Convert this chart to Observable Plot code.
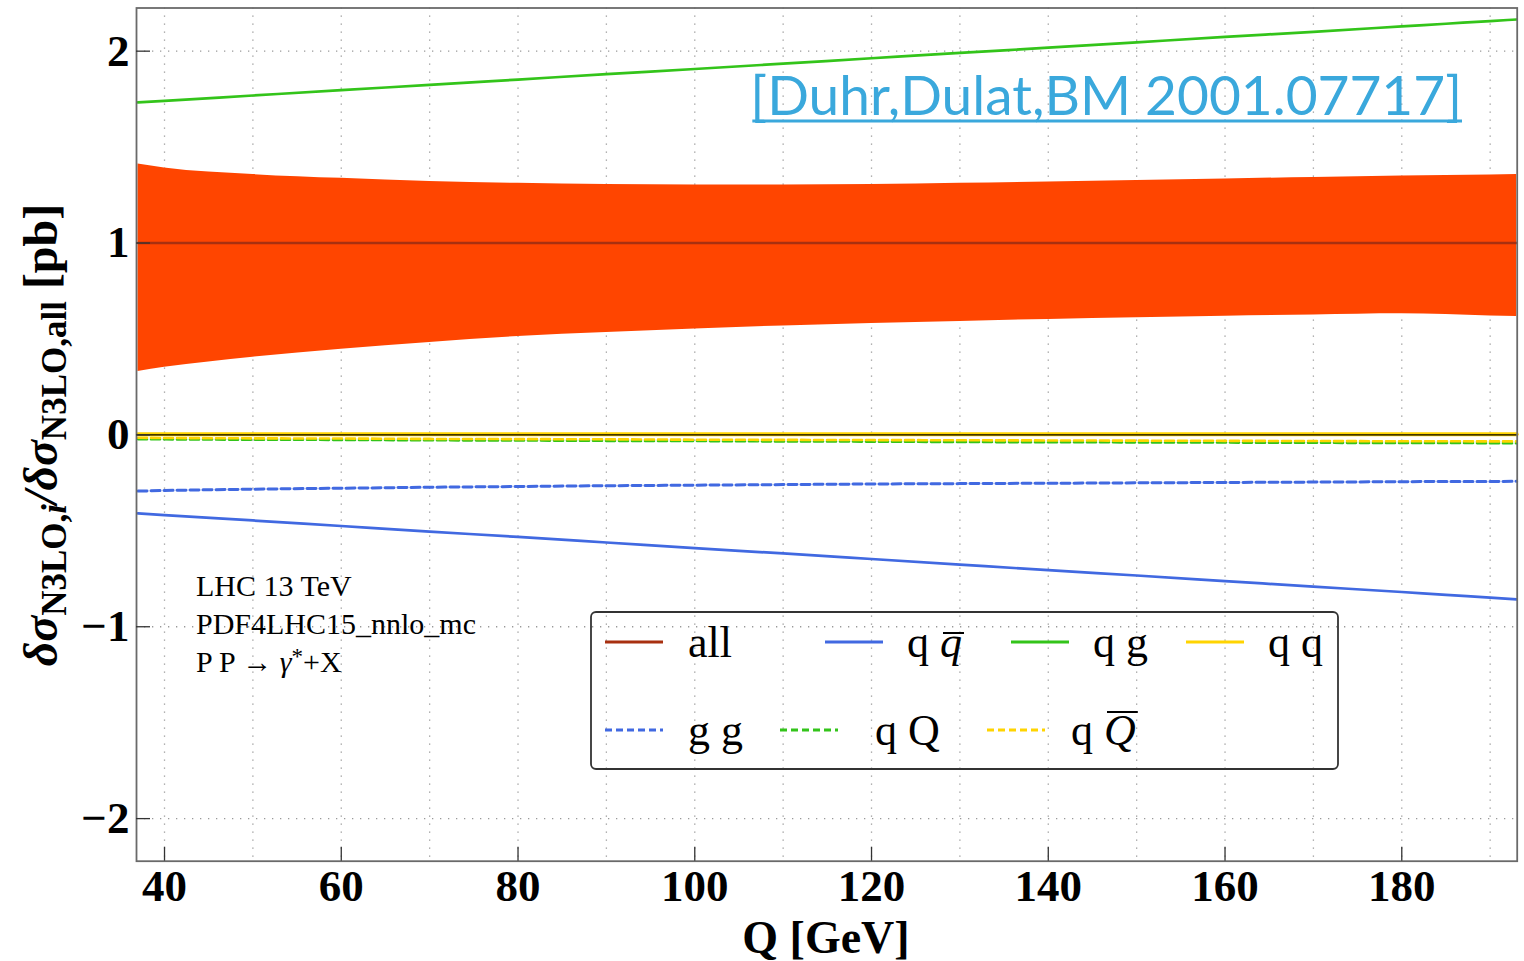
<!DOCTYPE html>
<html><head><meta charset="utf-8">
<script src="https://cdn.jsdelivr.net/npm/d3@7"></script>
<script src="https://cdn.jsdelivr.net/npm/@observablehq/plot@0.6"></script>
<style>body{margin:0;background:#fff;} svg{display:block}</style>
</head><body><div id="chart"></div>
<script>
// ---- data ----
const Q       = [37, 40, 50, 60, 70, 80, 90, 100, 110, 120, 130, 140, 150, 160, 170, 180, 185, 190, 193];
const bandHi  = [1.412, 1.391, 1.357, 1.337, 1.321, 1.311, 1.305, 1.303, 1.303, 1.305, 1.311, 1.318, 1.326, 1.334, 1.342, 1.350, 1.352, 1.355, 1.357];
const bandLo  = [0.331, 0.352, 0.405, 0.446, 0.482, 0.513, 0.534, 0.552, 0.568, 0.581, 0.591, 0.602, 0.610, 0.618, 0.625, 0.631, 0.628, 0.620, 0.617];
const all     = [1, 1, 1, 1, 1, 1, 1, 1, 1, 1, 1, 1, 1, 1, 1, 1, 1, 1, 1];
const qqbar   = [-0.409, -0.418, -0.446, -0.475, -0.504, -0.532, -0.561, -0.590, -0.618, -0.647, -0.676, -0.705, -0.733, -0.762, -0.791, -0.819, -0.834, -0.848, -0.857];
const qg      = [1.733, 1.741, 1.769, 1.797, 1.824, 1.852, 1.880, 1.907, 1.935, 1.963, 1.991, 2.018, 2.046, 2.074, 2.101, 2.129, 2.143, 2.157, 2.165];
const qq      = [0.003, 0.003, 0.003, 0.003, 0.003, 0.003, 0.003, 0.003, 0.003, 0.003, 0.003, 0.003, 0.003, 0.003, 0.003, 0.003, 0.003, 0.003, 0.003];
const gg      = [-0.293, -0.290, -0.283, -0.278, -0.273, -0.269, -0.265, -0.262, -0.259, -0.256, -0.254, -0.252, -0.250, -0.248, -0.246, -0.244, -0.243, -0.243, -0.242];
const qQ      = [-0.022, -0.023, -0.025, -0.026, -0.028, -0.029, -0.031, -0.032, -0.034, -0.035, -0.037, -0.038, -0.039, -0.040, -0.041, -0.042, -0.042, -0.043, -0.043];
const qQbar   = [-0.015, -0.016, -0.018, -0.019, -0.021, -0.022, -0.023, -0.025, -0.026, -0.027, -0.028, -0.029, -0.030, -0.031, -0.032, -0.033, -0.033, -0.034, -0.034];

const xTicks = [40, 60, 80, 100, 120, 140, 160, 180];
const xGrid  = [40, 50, 60, 70, 80, 90, 100, 110, 120, 130, 140, 150, 160, 170, 180, 190];
const yTicks = [-2, -1, 0, 1, 2];

const infoLines = ["LHC 13 TeV", "PDF4LHC15_nnlo_mc"];
const citation = "[Duhr,Dulat,BM 2001.07717]";

// ---- table built from arrays ----
const rows = Q.map((q, i) => ({Q: q, lo: bandLo[i], hi: bandHi[i], all: all[i], qqbar: qqbar[i], qg: qg[i], qq: qq[i], gg: gg[i], qQ: qQ[i], qQbar: qQbar[i]}));

const C = {all: "#a83010", blue: "#4169e1", green: "#33c41a", yellow: "#ffd400", band: "#ff4500", cite: "#3aa8dc"};
const DASH = "9,4";
const SERIF = "Liberation Serif, Times New Roman, serif";

const line = (key, color, dashed, w) => Plot.lineY(rows, {x: "Q", y: key, stroke: color, strokeWidth: w || 2.7, strokeDasharray: dashed ? DASH : null, curve: "monotone-x"});

const chart = Plot.plot({
  width: 1524, height: 961,
  marginLeft: 136, marginRight: 7.3, marginTop: 7.5, marginBottom: 100.3,
  style: {background: "white", fontFamily: SERIF, overflow: "visible", color: "black"},
  x: {domain: [36.83, 193.06]},
  y: {domain: [-2.222, 2.225]},
  marks: [
    Plot.gridX(xGrid, {stroke: "#999", strokeOpacity: 1, strokeWidth: 1.3, strokeDasharray: "1.3,6.7"}),
    Plot.gridY(yTicks, {stroke: "#999", strokeOpacity: 1, strokeWidth: 1.3, strokeDasharray: "1.3,6.7"}),
    Plot.areaY(rows, {x: "Q", y1: "lo", y2: "hi", fill: C.band, curve: "monotone-x"}),
    line("all", C.all, false, 2.4),
    line("qg", C.green, false),
    line("qqbar", C.blue, false),
    line("gg", C.blue, true, 3),
    line("qQ", C.green, true, 2.6),
    line("qQbar", C.yellow, true, 2.6),
    line("qq", C.yellow, false, 4),
    Plot.ruleY([0], {stroke: "black", strokeWidth: 1.3}),
    Plot.frame({stroke: "#6a6a6a", strokeWidth: 1.8}),
    Plot.axisX(xTicks, {tickSize: -14, fill: "none", stroke: "#333", strokeWidth: 1.3, label: null}),
    Plot.axisX(xTicks, {tickSize: 0, tickPadding: 8, fontSize: 45, fontWeight: "bold", fontFamily: SERIF, fill: "black", label: null}),
    Plot.axisY(yTicks, {tickSize: -14, fill: "none", stroke: "#333", strokeWidth: 1.3, label: null}),
    Plot.axisY(yTicks, {tickSize: 0, tickPadding: 7, fontSize: 45, fontWeight: "bold", fontFamily: SERIF, fill: "black", label: null,
      tickFormat: d => d < 0 ? "\u2212" + Math.abs(d) : String(d)})
  ]
});
document.getElementById("chart").appendChild(chart);

// ---- overlays: labels, legend, annotations ----
const svg = d3.select(chart);

// x axis title
svg.append("text").attr("x", 826).attr("y", 953).attr("text-anchor", "middle")
  .attr("font-family", SERIF).attr("font-weight", "bold").attr("font-size", 46).attr("fill", "black")
  .text("Q [GeV]");

// y axis title with subscripts
const yl = svg.append("text").attr("transform", "translate(57,435) rotate(-90)")
  .attr("text-anchor", "middle").attr("font-family", SERIF).attr("font-weight", "bold")
  .attr("font-size", 48).attr("fill", "black");
yl.append("tspan").attr("font-style", "italic").text("δσ");
yl.append("tspan").attr("font-size", 35).attr("dy", 9).text("N3LO,");
yl.append("tspan").attr("font-size", 35).attr("font-style", "italic").text("i");
yl.append("tspan").attr("dy", -9).attr("font-style", "italic").text("/δσ");
yl.append("tspan").attr("font-size", 35).attr("dy", 9).text("N3LO,all");
yl.append("tspan").attr("dy", -9).text(" [pb]");

// info text
const info = svg.append("g").attr("font-family", SERIF).attr("font-size", 30).attr("fill", "black").attr("text-anchor", "start");
infoLines.forEach((t, i) => info.append("text").attr("x", 196).attr("y", 596 + 38 * i).text(t));
const pp = info.append("text").attr("x", 196).attr("y", 672);
pp.append("tspan").text("P P \u2192 ");
pp.append("tspan").attr("font-style", "italic").text("γ");
pp.append("tspan").attr("font-size", 23).attr("dy", -8).text("*");
pp.append("tspan").attr("dy", 8).text("+X");

// citation with continuous underline
const cite = svg.append("text").attr("x", 1462).attr("y", 115).attr("text-anchor", "end")
  .attr("font-family", "Lato, Open Sans, sans-serif").attr("font-size", 55).attr("fill", C.cite)
  .text(citation);
const citeLen = cite.node().getComputedTextLength();
svg.append("line").attr("x1", 1462 - citeLen + 2).attr("x2", 1462).attr("y1", 121).attr("y2", 121)
  .attr("stroke", C.cite).attr("stroke-width", 3);

// legend
const lg = svg.append("g").attr("font-family", SERIF).attr("font-size", 44).attr("fill", "black").attr("text-anchor", "start");
lg.append("rect").attr("x", 591).attr("y", 612).attr("width", 747).attr("height", 157).attr("rx", 5)
  .attr("fill", "none").attr("stroke", "#333").attr("stroke-width", 1.8);
const legendItems = [
  {parts: [["all"]], color: C.all, dash: false, lx: 605, tx: 688, row: 0},
  {parts: [["q "], ["q", "bar"]], color: C.blue, dash: false, lx: 825, tx: 907, row: 0},
  {parts: [["q g"]], color: C.green, dash: false, lx: 1011, tx: 1093, row: 0},
  {parts: [["q q"]], color: C.yellow, dash: false, lx: 1186, tx: 1268, row: 0},
  {parts: [["g g"]], color: C.blue, dash: true, lx: 605, tx: 688, row: 1},
  {parts: [["q Q"]], color: C.green, dash: true, lx: 780, tx: 875, row: 1},
  {parts: [["q "], ["Q", "bar"]], color: C.yellow, dash: true, lx: 987, tx: 1071, row: 1}
];
legendItems.forEach(it => {
  const ly = it.row === 0 ? 642 : 730;
  const by = it.row === 0 ? 657 : 745;
  lg.append("line").attr("x1", it.lx).attr("x2", it.lx + 58).attr("y1", ly).attr("y2", ly)
    .attr("stroke", it.color).attr("stroke-width", 3).attr("stroke-dasharray", it.dash ? "7,4" : null);
  const t = lg.append("text").attr("x", it.tx).attr("y", by);
  let idx = 0;
  const bars = [];
  it.parts.forEach(([s, f]) => {
    const ts = t.append("tspan").text(s);
    if (f === "bar") { ts.attr("font-style", "italic"); bars.push([idx, s]); }
    idx += s.length;
  });
  bars.forEach(([i, s]) => {
    const n = t.node();
    const x0 = n.getStartPositionOfChar(i).x, x1 = n.getEndPositionOfChar(i).x;
    const h = s === "Q" ? 33 : 24;
    lg.append("line").attr("x1", x0 + 3).attr("x2", x1 + 2).attr("y1", by - h).attr("y2", by - h)
      .attr("stroke", "black").attr("stroke-width", 2);
  });
});
</script>
</body></html>
